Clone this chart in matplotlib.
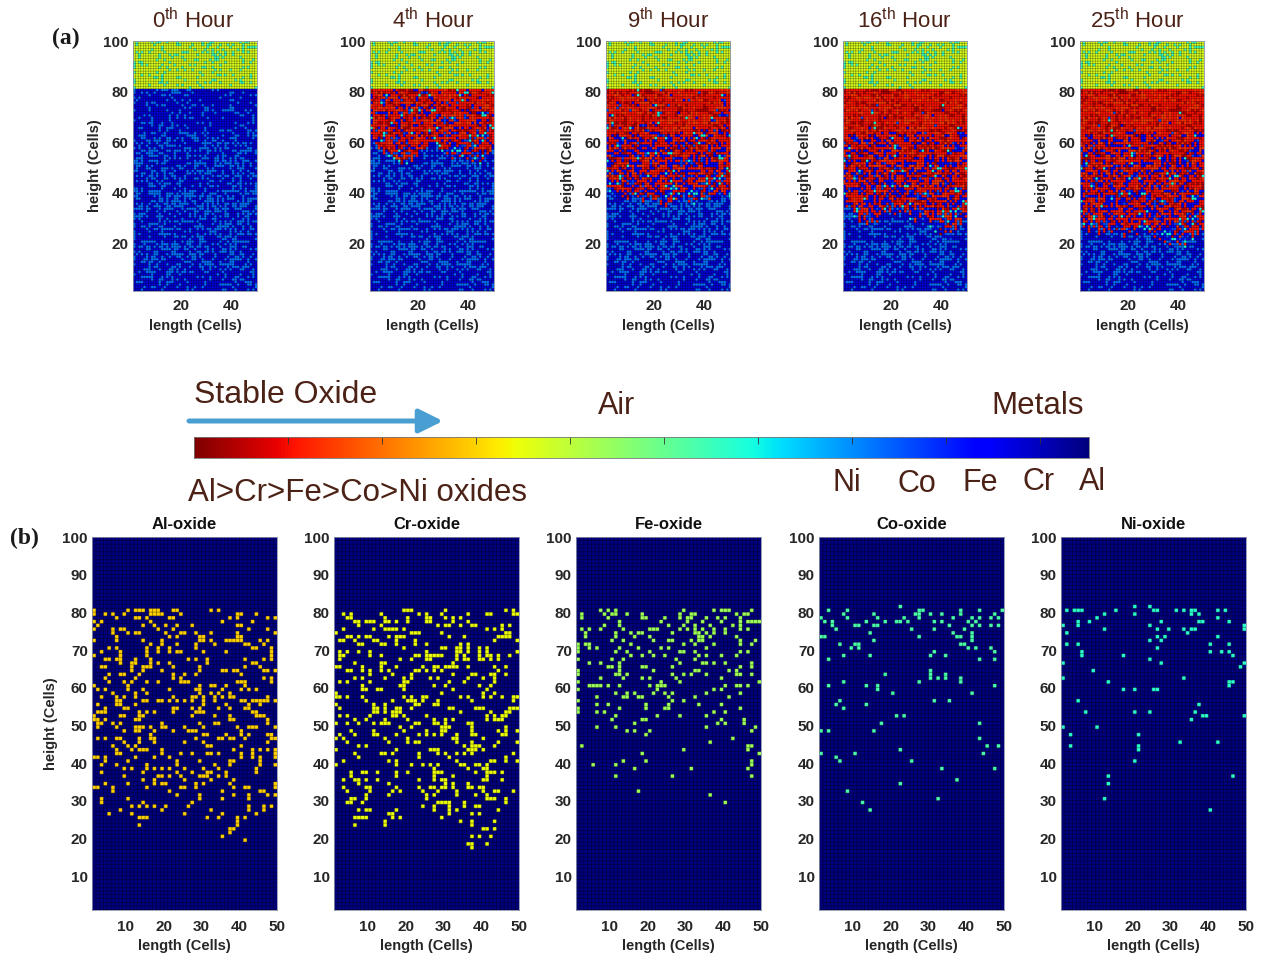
import matplotlib
matplotlib.use('Agg')
import matplotlib.pyplot as plt
import numpy as np

W, H = 1261, 955
plt.rcParams['font.family'] = ['Liberation Sans', 'DejaVu Sans']
plt.rcParams['mathtext.default'] = 'regular'

# oxide cells in the (b) maps, {height row: [length cols]}
al_oxide = {
    80: [1, 10, 12, 13, 14, 16, 17, 18, 22, 23, 32, 34],
    79: [1, 4, 6, 9, 16, 17, 18, 19, 24, 39, 40, 44],
    78: [7, 12, 13, 15, 21, 22, 37, 39, 47, 49],
    77: [1, 3, 16, 35, 43],
    76: [2, 14, 17, 20, 23, 27, 39, 40],
    75: [1, 6, 8, 9, 18, 22, 42, 47],
    74: [6, 10, 12, 13, 20, 24, 25, 28, 32, 39, 49],
    73: [7, 21, 23, 29, 30, 39, 40],
    72: [1, 7, 14, 19, 29, 30, 32, 36, 37, 38, 39, 40, 45, 47],
    71: [16, 19, 23, 28, 33, 41, 42, 46],
    70: [5, 7, 15, 18, 21, 28, 43, 44, 48],
    69: [3, 8, 15, 18, 21, 23, 24, 30, 36, 48],
    68: [1, 8, 15, 48],
    67: [4, 5, 7, 8, 12, 16, 26, 28, 31, 41, 46, 48],
    66: [8, 11, 12, 16, 18, 21, 31, 43, 44],
    65: [3, 4, 11, 14, 15, 16, 22, 29, 41, 45],
    64: [11, 14, 19, 29, 35, 36, 38, 39, 46, 47, 49],
    63: [5, 8, 9, 13, 22, 25, 28, 40],
    62: [4, 12, 22, 24, 46, 48],
    61: [5, 9, 11, 15, 18, 24, 25, 26, 39, 40, 41, 48],
    60: [1, 10, 29, 32, 33, 36, 41],
    59: [2, 4, 10, 14, 21, 28, 29, 35, 40, 42, 44],
    58: [6, 12, 15, 29, 32, 34, 37],
    57: [3, 7, 9, 12, 22, 27, 28, 30, 33, 35, 37, 38, 47],
    56: [7, 8, 14, 15, 18, 19, 21, 23, 25, 27, 30, 33, 40, 41, 43, 44, 45, 46, 47, 49],
    55: [2, 7, 8, 12, 30, 36, 42, 45],
    54: [4, 9, 10, 22, 23, 27, 29, 34, 37, 41, 42],
    53: [2, 3, 4, 13, 15, 17, 22, 28, 29, 30, 43, 44],
    52: [1, 8, 9, 13, 14, 27, 33, 37, 44, 45, 46],
    51: [1, 2, 4, 12, 13, 37, 38, 47],
    50: [2, 3, 6, 8, 19, 29, 33, 34, 47],
    49: [2, 7, 12, 13, 14, 16, 19, 20, 25, 30, 39, 42, 43, 44, 49],
    48: [9, 12, 13, 17, 22, 26, 27, 28, 40],
    47: [16, 30, 31, 36, 40, 42, 47, 48],
    46: [2, 4, 7, 8, 13, 16, 17, 28, 34, 35, 37, 38, 41, 48, 49],
    45: [9, 13, 17, 25, 30, 47],
    44: [6, 10, 12, 31, 32, 40],
    43: [7, 11, 13, 14, 15, 19, 38, 43, 45, 47, 49],
    42: [7, 8, 19, 24, 27, 31, 32, 34, 40, 43, 49],
    41: [1, 2, 4, 12, 17, 21, 40, 43, 45, 49],
    40: [4, 10, 23, 29, 37, 38, 45],
    39: [3, 7, 15, 23, 33, 37, 45, 49],
    38: [9, 11, 15, 17, 19, 21, 25, 30, 34, 44],
    37: [3, 14, 23, 27, 31, 32, 36, 44],
    36: [9, 18, 19, 21, 24, 29, 30, 31, 34, 36],
    35: [14, 17, 25, 32, 38],
    34: [4, 10, 17, 19, 20, 28, 30, 37, 49],
    33: [1, 2, 6, 15, 24, 25, 28, 38, 41, 42, 49],
    32: [6, 21, 35, 45, 46],
    31: [23, 29, 38, 42, 47, 49],
    30: [3, 10, 29, 35, 42],
    29: [3, 14, 27],
    28: [11, 13, 15, 17, 20, 26, 42, 46, 48],
    27: [8, 19, 32, 42, 46],
    26: [5, 11, 25, 35, 44],
    25: [13, 14, 15, 31, 34, 39, 41],
    24: [39],
    23: [13, 39],
    22: [37, 38],
    21: [37],
    20: [35],
    19: [41],
}
cr_oxide = {
    80: [19, 20, 21, 30, 46, 48],
    79: [3, 5, 13, 23, 25, 29, 36, 41, 42, 48, 49],
    78: [4, 5, 14, 20, 25, 26, 30, 32, 34],
    77: [6, 7, 9, 10, 11, 14, 15, 17, 20, 25, 26, 32, 36],
    76: [7, 13, 28, 30, 31, 34, 37, 38, 45, 47],
    75: [3, 11, 14, 15, 16, 17, 19, 41, 43, 45],
    74: [1, 21, 22, 23, 29, 46, 47],
    73: [4, 5, 7, 9, 10, 15, 17, 18, 19, 31, 35, 44, 45, 46, 47],
    72: [2, 3, 6, 11, 12, 17, 22, 43, 49],
    71: [7, 8, 13, 14, 17, 22, 25, 34, 36],
    70: [19, 29, 30, 33, 34, 36, 39, 41],
    69: [2, 4, 7, 10, 25, 33, 34, 36, 39, 41, 49],
    68: [2, 3, 10, 13, 22, 23, 25, 26, 27, 28, 29, 33, 35, 39, 41, 42, 44, 47],
    67: [2, 18, 21, 25, 26, 33, 35, 36, 39, 40, 42, 44],
    66: [6, 13, 14, 32],
    65: [1, 2, 8, 13, 17, 24, 27, 28, 30, 31, 32, 33, 36, 43, 46],
    64: [4, 5, 8, 10, 13, 15, 22, 23, 25, 27, 29, 44],
    63: [10, 16, 21, 32, 37, 38, 42, 43, 46],
    62: [6, 8, 14, 19, 21, 26, 28, 36, 40, 43],
    61: [2, 4, 10, 19, 20, 31, 35, 43],
    60: [8, 18, 19, 27, 30, 39, 42],
    59: [8, 9, 12, 13, 19, 32, 41],
    58: [1, 29, 40, 43],
    57: [1, 2, 4, 8, 19, 21, 24, 25, 34, 36, 40, 42, 45, 48, 49],
    56: [9, 16, 20, 21, 22, 24, 28, 37, 48],
    55: [1, 11, 14, 22, 23, 27, 28],
    54: [2, 11, 12, 14, 17, 18, 21, 31, 32, 38, 39, 40, 47, 48, 49],
    53: [11, 12, 14, 16, 17, 18, 34, 42, 46, 47],
    52: [2, 4, 10, 16, 17, 19, 25, 41, 43, 45, 46],
    51: [6, 9, 14, 20, 27, 30, 32, 41, 43, 44, 45],
    50: [1, 4, 7, 11, 13, 14, 15, 22, 23, 27, 28, 30, 36, 37],
    49: [18, 21, 29, 30, 31, 37, 46],
    48: [5, 11, 19, 25, 29, 30, 37, 44, 46, 49],
    47: [2, 6, 11, 12, 17, 23, 25, 27, 29, 33, 37, 38, 45, 46],
    46: [1, 3, 14, 20, 32, 33, 40],
    45: [4, 15, 20, 22, 23, 33, 37, 44, 49],
    44: [7, 9, 35, 37, 38, 39, 43],
    43: [1, 17, 26, 27, 28, 36, 37, 38, 40],
    42: [6, 13, 14, 16, 23, 28, 30, 33, 35, 37, 48],
    41: [7, 23, 31, 46],
    40: [3, 15, 17, 33, 42, 43, 46, 49],
    39: [1, 17, 21, 24, 26, 28, 34, 35, 38, 39, 41],
    38: [27, 36, 40, 41],
    37: [5, 8, 9, 12, 17, 20, 27, 28, 29, 38, 41, 42, 43, 45],
    36: [5, 17, 27, 32, 41],
    35: [3, 6, 7, 9, 12, 23, 27, 29, 30, 40, 41, 45],
    34: [7, 15, 30, 32, 36],
    33: [3, 9, 10, 17, 23, 26, 27, 29, 30, 32, 36, 37, 39, 40],
    32: [4, 10, 16, 18, 24, 28, 33, 40, 43, 44, 48],
    31: [9, 15, 25, 27, 33, 38, 41],
    30: [5, 6, 9, 25, 41, 42, 43, 46],
    29: [4, 5, 8, 28, 29, 30, 31, 35, 46],
    28: [24, 27, 31, 35, 38, 39],
    27: [7, 9, 10, 17, 27, 31, 33, 44],
    26: [15, 16, 31, 37, 39],
    25: [6, 7, 8, 9, 16, 18, 29],
    24: [14, 34, 37, 43],
    23: [6, 14, 37],
    22: [40, 41, 43],
    20: [37, 39, 42],
    18: [36, 37, 41],
    17: [37],
}
fe_oxide = {
    80: [7, 9, 11, 29, 37, 39, 40, 41, 47],
    79: [2, 8, 10, 11, 14, 18, 28, 31, 32, 43, 45, 46],
    78: [2, 9, 18, 19, 24, 28, 30, 31, 35, 38, 40, 44],
    77: [12, 23, 30, 34, 39, 44, 46, 47, 48, 49],
    76: [8, 12, 25, 29, 32, 36, 42, 44],
    75: [2, 4, 7, 13, 20, 21, 22, 28, 30, 32, 34, 37, 40, 44, 46],
    74: [3, 11, 15, 17, 18, 26, 32, 33, 35, 37, 40],
    73: [3, 11, 16, 20, 33, 34, 36, 43],
    72: [10, 13, 21, 25, 26, 31, 33, 34, 44, 48],
    71: [1, 3, 4, 15, 29, 32, 37, 44, 47],
    70: [1, 4, 6, 12, 17, 23, 25, 35],
    69: [1, 11, 14, 20, 28, 29, 32, 44, 46],
    68: [15, 18, 21, 24, 33, 35, 39, 43],
    67: [1, 10, 13, 27, 32],
    66: [4, 7, 12, 28, 34, 35, 37, 40, 47],
    65: [9, 10, 12, 18, 19, 26, 44, 47],
    64: [1, 12, 21, 32, 33, 41, 43],
    63: [1, 11, 12, 14, 26, 29, 31, 35, 43, 44, 47],
    62: [7, 13, 18, 20, 27, 39],
    61: [1, 23, 28, 49],
    60: [4, 5, 6, 7, 9, 12, 20, 22, 23, 24, 40, 43, 44, 46],
    59: [1, 22, 37, 39],
    58: [11, 14, 16, 21, 24, 26, 35, 44],
    57: [6, 13, 14, 17, 18, 25, 32, 41],
    56: [1, 26, 29],
    55: [6, 9, 19, 25, 33, 39],
    54: [1, 12, 19, 24, 25, 44],
    53: [1, 6, 8, 37, 40],
    52: [11, 22, 28, 35],
    51: [10, 18, 19, 39, 45],
    50: [16, 38, 40, 45],
    49: [6, 11, 35, 48],
    48: [14, 16, 20, 47],
    47: [19],
    46: [42],
    45: [36],
    44: [2, 46, 47],
    43: [29, 46],
    42: [18, 49],
    40: [13, 19, 47],
    39: [5, 11, 47],
    38: [16, 31, 46],
    36: [11, 26, 47],
    32: [17],
    31: [36],
    29: [40],
}
co_oxide = {
    81: [22],
    80: [3, 8, 27, 28, 38, 43, 49],
    79: [7, 15, 26, 27, 30, 33, 38, 47],
    78: [1, 8, 16, 23, 27, 36, 41, 43, 46, 48],
    77: [2, 4, 13, 18, 21, 22, 24, 31, 33, 40, 42],
    76: [4, 10, 11, 15, 16, 35, 41, 43, 46, 48],
    75: [5, 25, 31, 39],
    74: [14, 36, 41],
    73: [1, 2, 27, 37, 38, 41],
    72: [15, 41],
    71: [6, 10, 11, 38, 39],
    70: [9, 11, 40, 42, 46],
    69: [31, 47],
    68: [7, 14, 30, 34],
    67: [3, 43, 47],
    64: [30],
    63: [18, 30, 34],
    62: [30, 32, 34, 38],
    61: [7, 27, 38],
    60: [3, 13, 16, 47],
    59: [16],
    58: [20, 41],
    56: [6, 31, 35],
    55: [5, 13],
    54: [7],
    52: [21, 23],
    50: [17, 43],
    48: [1, 3, 15],
    46: [43],
    44: [45, 48],
    43: [22],
    42: [1, 10, 44],
    41: [5],
    40: [6, 25],
    38: [33, 47],
    35: [37],
    34: [22],
    32: [8],
    30: [32],
    29: [12],
    27: [14],
}
ni_oxide = {
    81: [20, 24],
    80: [2, 4, 5, 6, 15, 25, 26, 31, 33, 35, 36, 42, 44],
    79: [12, 20, 35, 37],
    78: [10, 42],
    77: [5, 8, 27, 37, 38, 45],
    76: [1, 5, 24, 49],
    75: [12, 26, 29, 33, 35, 36, 49],
    74: [2, 34],
    73: [26, 28, 42],
    72: [24, 27],
    71: [2, 5, 40, 45],
    70: [26],
    69: [6, 40, 43, 45],
    68: [6, 17, 46],
    67: [24],
    66: [1, 27, 49],
    65: [48],
    64: [9],
    62: [1, 33],
    61: [13, 45, 46],
    60: [45],
    59: [17, 20, 25, 26],
    56: [5],
    55: [37],
    53: [7, 20, 24, 36],
    52: [38, 39, 49],
    51: [35],
    49: [1, 10],
    47: [3, 21],
    45: [32, 42],
    44: [3, 21],
    43: [21],
    40: [20],
    36: [13, 46],
    34: [13],
    30: [12],
    27: [40],
}

oxide_names = ['Al-oxide', 'Cr-oxide', 'Fe-oxide', 'Co-oxide', 'Ni-oxide']
oxide_cells = [al_oxide, cr_oxide, fe_oxide, co_oxide, ni_oxide]
oxide_levels = [0.31, 0.36, 0.46, 0.56, 0.60]

# hours shown in (a), and how deep the oxide reaches in each column (by eye)
hour_titles = ['0$^{th}$ Hour', '4$^{th}$ Hour', '9$^{th}$ Hour', '16$^{th}$ Hour', '25$^{th}$ Hour']
front_0 = [81] * 49
front_4 = [60, 61, 59, 57, 58, 55, 56, 54, 55, 53, 53, 52, 51, 52, 51, 53, 52, 54, 53, 56,
           57, 56, 58, 60, 59, 60, 58, 57, 55, 56, 54, 55, 53, 54, 55, 53, 54, 55, 53, 54,
           52, 53, 52, 51, 52, 53, 54, 56, 59]
front_9 = [41, 39, 40, 38, 40, 41, 38, 39, 37, 40, 38, 39, 37, 38, 36, 38, 37, 39, 36, 37,
           38, 35, 37, 34, 36, 35, 37, 35, 38, 36, 39, 37, 36, 38, 35, 37, 39, 37, 38, 40,
           36, 38, 39, 37, 40, 38, 39, 37, 38]
front_16 = [37, 34, 36, 33, 30, 32, 28, 31, 29, 27, 30, 28, 31, 27, 30, 33, 30, 35, 32, 36,
            31, 35, 32, 34, 30, 33, 29, 32, 28, 31, 29, 33, 28, 30, 26, 29, 24, 27, 23, 26,
            22, 25, 21, 27, 25, 29, 27, 32, 30]
front_25 = [29, 26, 28, 24, 27, 25, 28, 23, 26, 24, 27, 25, 23, 27, 24, 28, 25, 22, 26, 24,
            27, 25, 23, 26, 28, 24, 26, 23, 25, 22, 24, 21, 23, 20, 22, 19, 21, 18, 20, 19,
            21, 18, 22, 24, 21, 25, 23, 27, 25]
hour_fronts = [front_0, front_4, front_9, front_16, front_25]

# The speckle of single cells in the (a) maps is too fine to read cell by cell,
# so it borrows the scatter read from the (b) maps, moved to the right rows.
air_shift = 20
metal_shifts = [(al_oxide, 0), (cr_oxide, -17), (fe_oxide, -40), (al_oxide, -61)]

# colorbar ticks and annotation texts
bar_ticks = [1, 2, 3, 4, 5, 6, 7, 8, 9]
metal_labels = ['Ni', 'Co', 'Fe', 'Cr', 'Al']
brown = '#4b2215'
tick_col = '#262626'


def px_axes(left, top, width, height):
    return fig.add_axes([left / W, 1 - (top + height) / H, width / W, height / H])


def px_text(x, y, s, **kw):
    kw.setdefault('ha', 'center')
    kw.setdefault('va', 'center')
    fig.text(x / W, 1 - y / H, s, **kw)


def put_cells(grid, cells, level, lo=1, hi=99, shift=0, flip=None):
    for row, cols in cells.items():
        r = row + shift if flip is None else flip - row
        if lo <= r <= hi:
            for col in cols:
                grid[r - 1, col - 1] = level


def draw_map(ax, grid, line_dark, xpad):
    # cells with a dark border, smoothed down to screen size so the grid stays fine
    n = 8
    rgb = plt.cm.jet_r(grid)[:, :, :3]
    rgb = np.repeat(np.repeat(rgb, n, axis=0), n, axis=1)
    border = np.ones((n, n))
    border[0, :] = line_dark
    border[:, 0] = line_dark
    rgb = rgb * np.tile(border, grid.shape)[:, :, None]
    ax.imshow(rgb, origin='lower', extent=[1, 50, 1, 100], aspect='auto', interpolation='hanning')
    ax.set_xlim(1, 50)
    ax.set_ylim(1, 100)
    ax.tick_params(length=0, labelsize=11, colors=tick_col)
    ax.tick_params(axis='x', pad=xpad)
    ax.tick_params(axis='y', pad=3)
    for lab in ax.get_xticklabels() + ax.get_yticklabels():
        lab.set_fontweight('bold')
    for sp in ax.spines.values():
        sp.set_color('#8a8fa8')
        sp.set_linewidth(0.6)


def hour_grid(front):
    grid = np.full((99, 49), 0.92)
    for cells, shift in metal_shifts:
        put_cells(grid, cells, 0.76, lo=1, hi=80, shift=shift)
    grid[80:, :] = 0.385
    put_cells(grid, fe_oxide, 0.58, lo=81, hi=99, shift=air_shift)
    oxide = np.zeros((99, 49), dtype=bool)
    for c, f in enumerate(front):
        oxide[f - 1:80, c] = True
    deepest = min(front)
    flip = 80 + deepest
    tint = np.full((99, 49), 0.11)
    put_cells(tint, al_oxide, 0.05)
    put_cells(tint, cr_oxide, 0.15)
    if deepest < 50:
        put_cells(tint, cr_oxide, 0.88, lo=1, hi=80, shift=-17)
    put_cells(tint, fe_oxide, 0.88, lo=1, hi=80, flip=flip)
    put_cells(tint, co_oxide, 0.80, lo=1, hi=80, flip=flip)
    put_cells(tint, ni_oxide, 0.62, lo=1, hi=80, flip=flip)
    grid[oxide] = tint[oxide]
    return grid


fig = plt.figure(figsize=(W / 100, H / 100), dpi=100)

# (a) oxidation by hour
top_lefts = [133, 370, 606, 843, 1080]
title_x = [193, 433, 668, 904, 1137]
for left, tx, title, front in zip(top_lefts, title_x, hour_titles, hour_fronts):
    ax = px_axes(left, 41, 124, 250)
    ax.set_xticks([20, 40])
    ax.set_yticks([20, 40, 60, 80, 100])
    draw_map(ax, hour_grid(front), 0.12, 6)
    ax.set_xlabel('length (Cells)', fontsize=10.5, fontweight='bold', color=tick_col, labelpad=4)
    ax.set_ylabel('height (Cells)', fontsize=10.5, fontweight='bold', color=tick_col, labelpad=1)
    px_text(tx, 21, title, fontsize=16, color=brown)

px_text(66, 38, '(a)', fontsize=17, fontweight='bold', family='Liberation Serif', color='#1a1a1a')
px_text(24, 538, '(b)', fontsize=17, fontweight='bold', family='Liberation Serif', color='#1a1a1a')

# colour key
bar = fig.add_axes([194 / W, 1 - 458 / H, 895 / W, 21 / H])
bar.imshow(np.linspace(0, 1, 512)[None, :], aspect='auto', cmap='jet_r', extent=[0, 895 / 94, 0, 1])
bar.set_xticks(bar_ticks)
bar.set_xticklabels([])
bar.set_yticks([])
bar.tick_params(axis='x', direction='in', top=True, bottom=False, length=5, width=0.6, color='#333333')
for sp in bar.spines.values():
    sp.set_color('#777777')
    sp.set_linewidth(0.6)

px_text(286, 395, 'Stable Oxide', fontsize=23, color=brown)
px_text(617, 406, 'Air', fontsize=22, color=brown)
px_text(1038, 406, 'Metals', fontsize=22.5, color=brown)
px_text(357, 493, 'Al>Cr>Fe>Co>Ni oxides', fontsize=22.5, color=brown)
for lab, lx, ly in zip(metal_labels, [847, 917, 980, 1039, 1092], [483, 484, 483, 482, 482]):
    px_text(lx, ly, lab, fontsize=22, color=brown)

arrow_ax = fig.add_axes([0, 0, 1, 1], facecolor='none')
arrow_ax.set_xlim(0, W)
arrow_ax.set_ylim(H, 0)
arrow_ax.axis('off')
arrow_ax.annotate('', xy=(443, 421), xytext=(189, 421),
                  arrowprops=dict(arrowstyle='-|>,head_length=1.45,head_width=0.72', lw=3.6, color='#4a9fd2',
                                  shrinkA=0, shrinkB=0))

# (b) where each oxide sits
low_lefts = [92, 334, 576, 819, 1061]
for i, (left, name, cells, level) in enumerate(zip(low_lefts, oxide_names, oxide_cells, oxide_levels)):
    ax = px_axes(left, 537, 185, 373)
    grid = np.ones((99, 49))
    put_cells(grid, cells, level)
    ax.set_xticks([10, 20, 30, 40, 50])
    ax.set_yticks(np.arange(10, 101, 10))
    draw_map(ax, grid, 0.3, 7)
    ax.set_xlabel('length (Cells)', fontsize=10.5, fontweight='bold', color=tick_col, labelpad=4)
    ax.set_title(name, fontsize=12, fontweight='bold', color='#111111', pad=6)
    if i == 0:
        ax.set_ylabel('height (Cells)', fontsize=10.5, fontweight='bold', color=tick_col, labelpad=3)

fig.savefig('out.png', dpi=100)
